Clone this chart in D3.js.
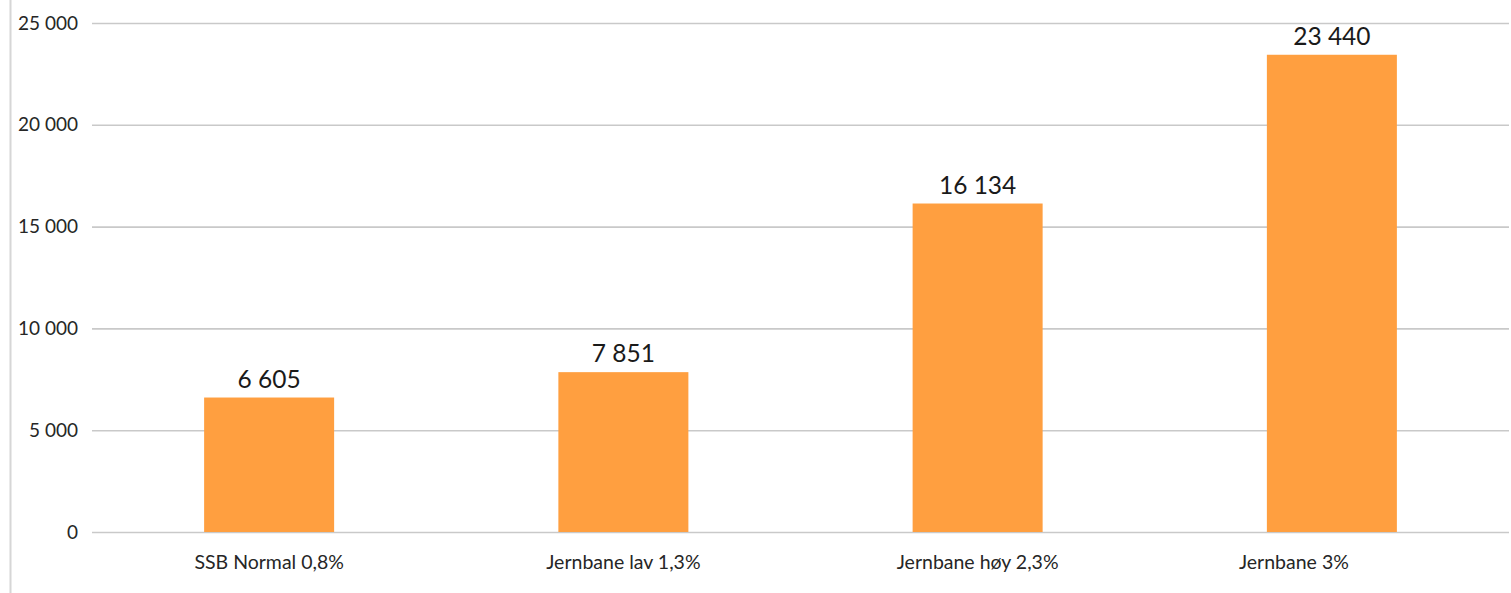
<!DOCTYPE html>
<html><head><meta charset="utf-8">
<script src="https://cdn.jsdelivr.net/npm/d3@7"></script>
<style>body{margin:0;background:#fff}svg{display:block}</style>
</head><body>
<svg id="c" width="1511" height="593"></svg>
<script>
const categories = ["SSB Normal 0,8%", "Jernbane lav 1,3%", "Jernbane høy 2,3%", "Jernbane 3%"];
const values = [6605, 7851, 16134, 23440];
const yTicks = [0, 5000, 10000, 15000, 20000, 25000];

const svg = d3.select("#c");
const W = 1511, H = 593;
const m = {left: 92, right: 2, top: 23, bottom: 61};
const fmt = v => d3.format(",")(v).replace(/,/g, " ");
const font = "Lato, 'Open Sans', sans-serif";

svg.append("line").attr("x1", 10.5).attr("x2", 10.5).attr("y1", 0).attr("y2", H)
  .attr("stroke", "#d6d6d6").attr("stroke-width", 2);

const x = d3.scaleBand().domain(categories).range([m.left, W - m.right]).paddingInner(0.633).paddingOuter(0.3165);
const y = d3.scaleLinear().domain([0, 25000]).range([H - m.bottom, m.top]);

const ya = svg.append("g").attr("transform", `translate(${m.left},0)`)
  .call(d3.axisLeft(y).tickValues(yTicks).tickFormat(fmt).tickSize(-(W - m.right - m.left)).tickPadding(14));
ya.select(".domain").remove();
ya.selectAll(".tick line").attr("stroke", "#c9c9c9").attr("stroke-width", 1.6);
ya.selectAll(".tick text").attr("font-family", font).attr("font-size", 19).attr("fill", "#262626");

svg.append("g").selectAll("rect").data(values).join("rect")
  .attr("x", (d, i) => x(categories[i])).attr("width", x.bandwidth())
  .attr("y", d => y(d)).attr("height", d => y(0) - y(d))
  .attr("fill", "#FF9F40");

svg.append("g").selectAll("text").data(values).join("text")
  .attr("x", (d, i) => x(categories[i]) + x.bandwidth() / 2)
  .attr("y", d => y(d) - 10)
  .attr("text-anchor", "middle").attr("font-family", font).attr("font-size", 24.5).attr("fill", "#1a1a1a")
  .text(fmt);

const xa = svg.append("g").attr("transform", `translate(0,${y(0)})`)
  .call(d3.axisBottom(x).tickSize(0).tickPadding(23));
xa.select(".domain").remove();
xa.selectAll(".tick text").attr("font-family", font).attr("font-size", 19.5).attr("fill", "#262626")
  .attr("dx", (d, i) => i === categories.length - 1 ? -38 : 0);
</script>
</body></html>
